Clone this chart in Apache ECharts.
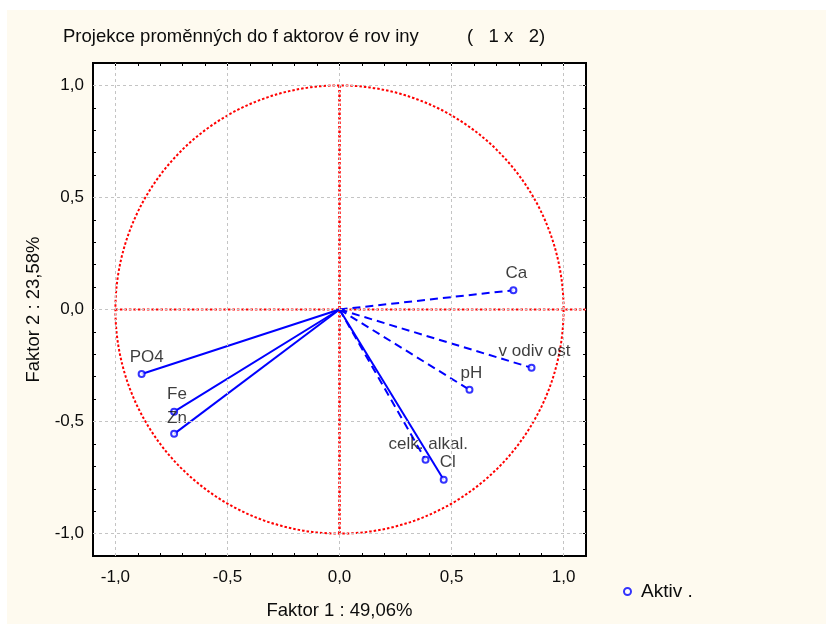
<!DOCTYPE html>
<html>
<head>
<meta charset="utf-8">
<script src="https://cdn.jsdelivr.net/npm/echarts@6/dist/echarts.min.js"></script>
<style>
html,body{margin:0;padding:0;background:#fff;}
#c{width:826px;height:624px;}
</style>
</head>
<body>
<div id="c"></div>
<script>
// ---- data ----
const variableNames = ['PO4', 'Fe', 'Zn', 'Ca', 'v odiv ost', 'pH', 'celk. alkal.', 'Cl'];
const factor1 = [-0.883, -0.738, -0.738, 0.776, 0.857, 0.580, 0.384, 0.465];
const factor2 = [-0.288, -0.456, -0.555, 0.086, -0.260, -0.358, -0.671, -0.760];
const lineKinds = ['solid', 'solid', 'solid', 'dashed', 'dashed', 'dashed', 'dashed', 'solid'];
const majorTicks = [-1.0, -0.5, 0.0, 0.5, 1.0];
const titleText = 'Projekce proměnných do f aktorov é rov iny';
const titleSuffix = '(   1 x   2)';
const xName = 'Faktor 1 : 49,06%';
const yName = 'Faktor 2 : 23,58%';
const legendName = 'Aktiv .';

// ---- label styling (pixel offsets of text relative to point) ----
const labelOffsets = [[-12, -17], [-7, -17], [-7, -16], [-8, -17], [-33, -16], [-9, -16], [-37, -16], [-4, -17]];

const FONT = 'Liberation Sans, Arial, sans-serif';
const TXT = '#0c0c0c';
const BLUE = '#0000ff';
const RED = '#ff0000';

const chart = echarts.init(document.getElementById('c'), null, {renderer: 'canvas'});

function fmt(v) {
  const r = Math.round(v * 10) / 10;
  if (Math.abs(r * 2 - Math.round(r * 2)) > 1e-6 || Math.abs(r) > 1.0001) return '';
  return r.toFixed(1).replace('.', ',');
}

function makeAxis(pos, showLabel, name) {
  return {
    type: 'value', min: -1.1, max: 1.1, interval: 0.1, position: pos,
    axisLine: {show: false, onZero: false},
    axisTick: {show: true, inside: true, length: 3, lineStyle: {color: '#000', width: 1}},
    axisLabel: {show: showLabel, formatter: fmt, fontSize: 17, fontFamily: FONT, color: TXT, margin: 9, showMinLabel: true, showMaxLabel: true, hideOverlap: false},
    splitLine: {show: false},
    name: name || '', nameLocation: 'middle',
    nameTextStyle: {fontSize: 18.5, fontFamily: FONT, color: TXT}
  };
}

const xAxes = [makeAxis('bottom', true, xName), makeAxis('top', false)];
xAxes[0].nameGap = 45;
xAxes[0].axisLabel.margin = 13;
const yAxes = [makeAxis('left', true, yName), makeAxis('right', false)];
yAxes[0].nameGap = 50;

const series = [];

// grid lines
series.push({
  type: 'line', data: [], silent: true, animation: false,
  markLine: {
    silent: true, symbol: ['none', 'none'], label: {show: false}, animation: false,
    lineStyle: {color: '#c4c4c4', type: [3, 3], width: 1},
    data: majorTicks.map(v => ({xAxis: v})).concat(majorTicks.map(v => ({yAxis: v})))
  }
});

// unit circle
series.push({
  type: 'custom', silent: true, animation: false, data: [[0, 0]],
  encode: {x: 0, y: 1},
  renderItem: function (params, api) {
    const c = api.coord([0, 0]);
    const s = api.size([1, 1]);
    return {
      type: 'circle',
      shape: {cx: c[0], cy: c[1], r: s[0]},
      style: {fill: 'none', stroke: RED, lineWidth: 2, lineDash: [2.5, 2]}
    };
  }
});

// red cross lines
series.push({
  type: 'line', silent: true, animation: false, symbol: 'none',
  data: [[-1, 0], [1.1, 0]],
  lineStyle: {color: RED, width: 2, type: [2.5, 2]}
});
series.push({
  type: 'line', silent: true, animation: false, symbol: 'none',
  data: [[0, -1], [0, 1]],
  lineStyle: {color: RED, width: 2.5, type: [2.5, 2]}
});

// vectors
variableNames.forEach((n, i) => {
  series.push({
    type: 'line', silent: true, animation: false, symbol: 'none',
    data: [[0, 0], [factor1[i], factor2[i]]],
    lineStyle: {color: BLUE, width: 2, type: lineKinds[i] === 'dashed' ? [8, 5] : 'solid'},
    z: 3
  });
});

// points with labels
series.push({
  name: legendName,
  type: 'scatter', animation: false, symbol: 'emptyCircle', symbolSize: 6,
  itemStyle: {color: BLUE, borderColor: BLUE, borderWidth: 1.3},
  z: 4,
  data: variableNames.map((n, i) => ({
    name: n,
    value: [factor1[i], factor2[i]],
    label: {
      show: true, formatter: n, position: 'inside', align: 'left', verticalAlign: 'middle',
      offset: labelOffsets[i], fontSize: 17, fontFamily: FONT, color: TXT
    }
  }))
});

chart.setOption({
  backgroundColor: '#fefaef',
  animation: false,
  textStyle: {fontFamily: FONT},
  grid: {left: 93, top: 63, width: 493, height: 493, show: true, borderColor: '#000', borderWidth: 2, backgroundColor: '#ffffff', containLabel: false, outerBoundsMode: 'none'},
  graphic: [
    {type: 'rect', left: 0, top: 0, shape: {width: 826, height: 10}, style: {fill: '#ffffff'}, silent: true},
    {type: 'rect', left: 0, top: 0, shape: {width: 7, height: 624}, style: {fill: '#ffffff'}, silent: true},
    {type: 'text', left: 63, top: 27, style: {text: titleText, fontSize: 18.5, fontFamily: FONT, fill: TXT}},
    {type: 'text', left: 467, top: 27, style: {text: titleSuffix, fontSize: 18.5, fontFamily: FONT, fill: TXT}}
  ],
  legend: {
    show: true, data: [{name: legendName, icon: 'emptyCircle'}], left: 618, top: 577,
    itemWidth: 7, itemHeight: 7, itemGap: 5,
    textStyle: {fontSize: 19, fontFamily: FONT, color: TXT, padding: [0, 0, 0, 5]},
    itemStyle: {color: BLUE, borderColor: BLUE}
  },
  xAxis: xAxes,
  yAxis: yAxes,
  series: series
});
</script>
</body>
</html>
